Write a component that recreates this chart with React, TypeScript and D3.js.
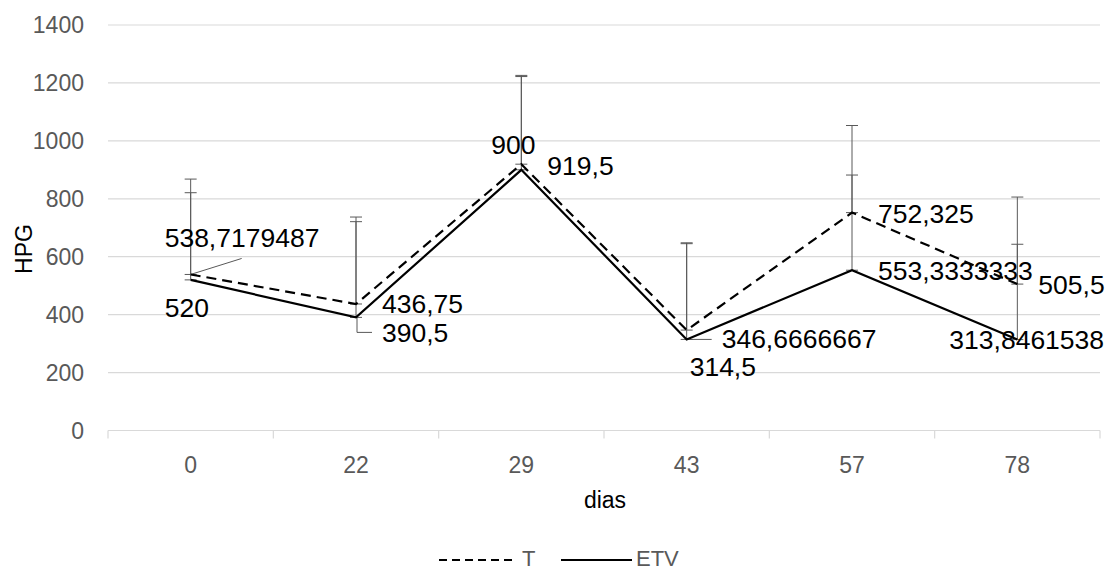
import React from "react";
import * as d3 from "d3";

const categories = ["0", "22", "29", "43", "57", "78"];
const seriesT = [538.7179487, 436.75, 919.5, 346.6666667, 752.325, 505.5];
const seriesETV = [520, 390.5, 900, 314.5, 553.3333333, 313.8461538];
const errTopT = [868, 737, 1226, 648, 1053, 806];
const errTopETV = [821, 721, 1222, 645, 882, 643];
const yTicks = [0, 200, 400, 600, 800, 1000, 1200, 1400];
const labelsT = ["538,7179487", "436,75", "919,5", "346,6666667", "752,325", "505,5"];
const labelsETV = ["520", "390,5", "900", "314,5", "553,3333333", "313,8461538"];

// label offsets (dx from category center, baseline dy from point)
const offT = [[-26, -27], [26, 9], [26, 11], [35, 18], [26, 10], [21, 10]];
const offETV = [[-26, 37], [26, 25], [-30, -16], [3, 37], [26, 10], [-68, 9]];

const FONT = "'Liberation Sans', Arial, sans-serif";

export default function App() {
  const W = 1105, H = 570;
  const x = d3.scaleBand<string>().domain(categories).range([108, 1100]);
  const y = d3.scaleLinear().domain([0, 1400]).range([430.5, 25]);
  const cx = (c: string) => (x(c) as number) + x.bandwidth() / 2;
  const line = d3
    .line<number>()
    .x((_, i) => cx(categories[i]))
    .y((d) => y(d));
  const cap = 6;
  const errColor = "#595959";
  const grid = "#d9d9d9";

  return (
    <svg width={W} height={H} style={{ position: "absolute", left: 0, top: 0, background: "#fff" }}>
      <rect width={W} height={H} fill="#fff" />
      {yTicks.map((t) => (
        <g key={t}>
          {t > 0 && <line x1={108} x2={1100} y1={y(t)} y2={y(t)} stroke={grid} strokeWidth={1.2} />}
          <text x={84} y={y(t) + 8} textAnchor="end" fontFamily={FONT} fontSize={23} fill="#595959">
            {t}
          </text>
        </g>
      ))}
      <line x1={108} x2={1100} y1={y(0)} y2={y(0)} stroke={grid} strokeWidth={1.2} />
      {categories.concat([""]).map((c, i) => {
        const xx = 108 + i * x.bandwidth();
        return <line key={i} x1={xx} x2={xx} y1={y(0)} y2={y(0) + 8} stroke={grid} strokeWidth={1.2} />;
      })}
      {categories.map((c) => (
        <text key={c} x={cx(c)} y={473} textAnchor="middle" fontFamily={FONT} fontSize={23} fill="#595959">
          {c}
        </text>
      ))}
      <text x={605} y={508} textAnchor="middle" fontFamily={FONT} fontSize={23} fill="#000">
        dias
      </text>
      <text
        transform="translate(32,249) rotate(-90)"
        textAnchor="middle"
        fontFamily={FONT}
        fontSize={23}
        fill="#000"
      >
        HPG
      </text>

      {/* error bars */}
      {[
        { v: seriesT, e: errTopT },
        { v: seriesETV, e: errTopETV },
      ].map((s, si) => (
        <g key={si}>
          {s.v.map((v, i) => {
            const xx = cx(categories[i]);
            return (
              <g key={i} stroke={errColor} strokeWidth={1}>
                <line x1={xx} x2={xx} y1={y(v)} y2={y(s.e[i])} />
                <line x1={xx - cap} x2={xx + cap} y1={y(s.e[i])} y2={y(s.e[i])} />
                <line x1={xx - cap} x2={xx + cap} y1={y(v)} y2={y(v)} />
              </g>
            );
          })}
        </g>
      ))}

      {/* leader lines */}
      <g stroke={errColor} strokeWidth={1} fill="none">
        <line x1={cx("0")} y1={y(seriesT[0])} x2={cx("0") + 51} y2={y(seriesT[0]) - 16} />
        <polyline
          points={`${cx("22") + 1},${y(seriesETV[1])} ${cx("22") + 1},${y(seriesETV[1]) + 15} ${cx("22") + 16},${y(seriesETV[1]) + 15}`}
        />
        <line x1={cx("43")} y1={y(seriesETV[3])} x2={cx("43") + 25} y2={y(seriesETV[3])} />
      </g>

      <path d={line(seriesT) || ""} fill="none" stroke="#000" strokeWidth={2.2} strokeDasharray="10,6" />
      <path d={line(seriesETV) || ""} fill="none" stroke="#000" strokeWidth={2.2} />

      {seriesT.map((v, i) => (
        <text
          key={"t" + i}
          x={cx(categories[i]) + offT[i][0]}
          y={y(v) + offT[i][1]}
          fontFamily={FONT}
          fontSize={26.5}
          fill="#000"
        >
          {labelsT[i]}
        </text>
      ))}
      {seriesETV.map((v, i) => (
        <text
          key={"e" + i}
          x={cx(categories[i]) + offETV[i][0]}
          y={y(v) + offETV[i][1]}
          fontFamily={FONT}
          fontSize={26.5}
          fill="#000"
        >
          {labelsETV[i]}
        </text>
      ))}

      {/* legend */}
      <line x1={439} x2={515} y1={560} y2={560} stroke="#000" strokeWidth={2.2} strokeDasharray="8,5" />
      <text x={522} y={566} fontFamily={FONT} fontSize={22} fill="#595959">
        T
      </text>
      <line x1={561} x2={632} y1={560} y2={560} stroke="#000" strokeWidth={2.2} />
      <text x={636} y={566} fontFamily={FONT} fontSize={22} fill="#595959">
        ETV
      </text>
    </svg>
  );
}
